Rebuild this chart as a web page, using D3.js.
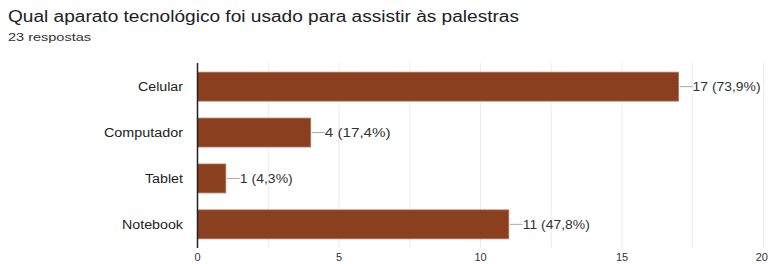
<!DOCTYPE html>
<html><head><meta charset="utf-8">
<script src="https://cdn.jsdelivr.net/npm/d3@7"></script>
<style>body{margin:0;background:#fff;}svg{display:block;font-family:"Liberation Sans",Arial,sans-serif;}</style>
</head><body>
<svg id="c" width="769" height="264"></svg>
<script>
const categories = ["Celular","Computador","Tablet","Notebook"];
const values = [17,4,1,11];
const labels = ["17 (73,9%)","4 (17,4%)","1 (4,3%)","11 (47,8%)"];
const tickValues = [0,5,10,15,20];
const gridValues = [2.5,5,7.5,10,12.5,15,17.5,20];

const svg = d3.select("#c");
function fit(sel, w){ const n=sel.node(); const cur=n.getComputedTextLength(); if(Math.abs(cur-w)>1) sel.attr("textLength",w).attr("lengthAdjust","spacingAndGlyphs"); return sel; }

fit(svg.append("text").attr("x",8).attr("y",22).attr("font-size",16).attr("fill","#202124")
  .text("Qual aparato tecnológico foi usado para assistir às palestras"), 511);
fit(svg.append("text").attr("x",8).attr("y",41).attr("font-size",11).attr("fill","#333")
  .text("23 respostas"), 83);

const x = d3.scaleLinear().domain([0,20]).range([197.5,763.5]);
const y = d3.scaleBand().domain(categories).range([63,248]).paddingInner(0.37).paddingOuter(0.2);

svg.append("g").selectAll("line").data(gridValues).join("line")
  .attr("x1",d=>x(d)).attr("x2",d=>x(d)).attr("y1",63).attr("y2",248)
  .attr("stroke","#ececec").attr("stroke-width",1);

svg.append("g").selectAll("rect").data(values).join("rect")
  .attr("x",x(0)).attr("y",(d,i)=>y(categories[i]))
  .attr("width",d=>x(d)-x(0)).attr("height",y.bandwidth())
  .attr("fill","#8a401e").attr("stroke","#b07458").attr("stroke-width",0.8);

svg.append("line").attr("x1",x(0)).attr("x2",x(0)).attr("y1",63).attr("y2",248)
  .attr("stroke","#222").attr("stroke-width",1.5);

const labelW = [68,66,53,67];
const catW = [45,79,38,61];
const g = svg.append("g");
values.forEach((v,i)=>{
  const cy = y(categories[i]) + y.bandwidth()/2;
  g.append("line").attr("x1",x(v)+1).attr("x2",x(v)+14).attr("y1",cy).attr("y2",cy)
    .attr("stroke","#aaa").attr("stroke-width",1);
  fit(g.append("text").attr("x",x(v)+14).attr("y",cy).attr("dy","0.35em")
    .attr("font-size",12).attr("fill","#333").text(labels[i]), labelW[i]);
  fit(g.append("text").attr("x",183).attr("y",cy).attr("dy","0.35em").attr("text-anchor","end")
    .attr("font-size",12).attr("fill","#222").text(categories[i]), catW[i]);
});

const last = tickValues[tickValues.length-1];
svg.append("g").selectAll("text").data(tickValues).join("text")
  .attr("x",d=>d===last ? 768 : x(d)).attr("y",261)
  .attr("text-anchor",d=>d===last ? "end" : "middle")
  .attr("font-size",11).attr("fill","#333").text(d=>d);
</script>
</body></html>
